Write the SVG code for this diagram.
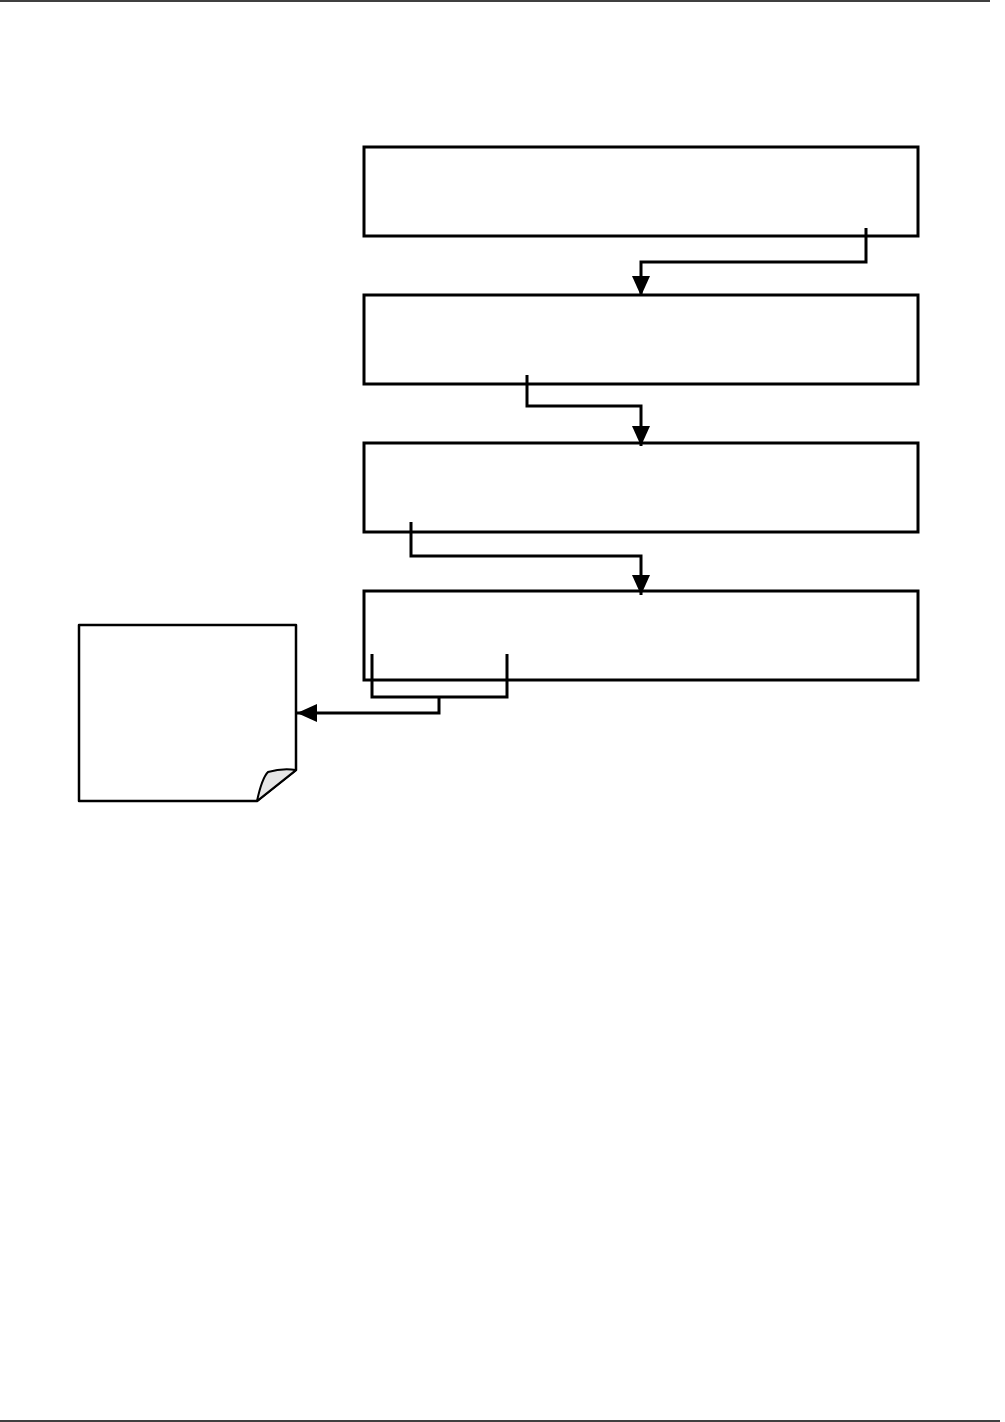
<svg xmlns="http://www.w3.org/2000/svg" width="1005" height="1422" viewBox="0 0 1005 1422">
<style>
.box{fill:#fff;stroke:#000;stroke-width:3}
.conn{fill:none;stroke:#000;stroke-width:3;stroke-linejoin:miter}
.rule{stroke:#000;stroke-width:1.5}
.note{fill:#fff;stroke:#000;stroke-width:2.5;stroke-linejoin:round}
.curl{fill:#e6e6e6;stroke:#000;stroke-width:2;stroke-linejoin:round}
</style>
<defs>
<marker id="arr" markerUnits="userSpaceOnUse" markerWidth="20" markerHeight="20" viewBox="0 0 20 18" refX="20" refY="9" orient="auto">
<path d="M0,0 L20,9 L0,18 Z" fill="#000"/>
</marker>
</defs>
<rect width="1005" height="1422" fill="#fff"/>
<line class="rule" x1="0" y1="1" x2="990" y2="1"/>
<line class="rule" x1="0" y1="1421" x2="1000" y2="1421"/>
<g id="box1"><rect class="box" x="364" y="147" width="554" height="89"/></g>
<g id="box2"><rect class="box" x="364" y="295" width="554" height="89"/></g>
<g id="box3"><rect class="box" x="364" y="443" width="554" height="89"/></g>
<g id="box4"><rect class="box" x="364" y="591" width="554" height="89"/></g>
<g id="note">
<path class="note" d="M79,625 L296,625 L296,770 L257,801 L79,801 Z"/>
<path class="curl" d="M257,801 Q262,778 268,772 Q282,768 296,770 Z"/>
</g>
<g id="connectors">
<path class="conn" d="M866,228 V262 H641 V296" marker-end="url(#arr)"/>
<path class="conn" d="M527,375 V406 H641 V446" marker-end="url(#arr)"/>
<path class="conn" d="M411,522 V556 H641 V595" marker-end="url(#arr)"/>
<path class="conn" d="M372,654 V697 H507 V654"/>
<path class="conn" d="M439,697 V713 H297" marker-end="url(#arr)"/>
</g>
</svg>
